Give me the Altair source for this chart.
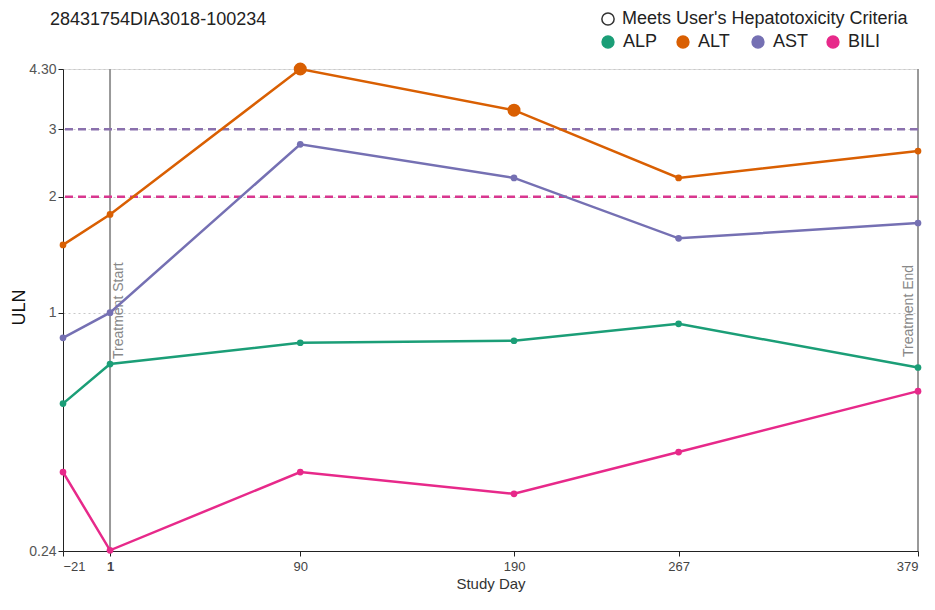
import altair as alt
import pandas as pd

days = [-21, 1, 90, 190, 267, 379]
tests = ["ALP", "ALT", "AST", "BILI"]
colors = ["#1b9e77", "#d95f02", "#7570b3", "#e7298a"]
alp = [0.58, 0.735, 0.835, 0.845, 0.935, 0.72]
alt_v = [1.50, 1.80, 4.30, 3.36, 2.24, 2.63]
ast = [0.86, 1.00, 2.74, 2.24, 1.56, 1.71]
bili = [0.385, 0.241, 0.385, 0.338, 0.434, 0.625]
crit_test = ["ALT", "ALT"]
crit_day = [90, 190]
crit_val = [4.30, 3.36]
ref_vals = [3, 2]
ref_colors = ["#8a70ad", "#d8378f"]
marker_days = [1, 379]
marker_labels = ["Treatment Start", "Treatment End"]
y_ticks = [0.24, 1, 2, 3, 4.3]
x_ticks = [-21, 1, 90, 190, 267, 379]
chart_title = "28431754DIA3018-100234"

rows = []
for t, vals in zip(tests, [alp, alt_v, ast, bili]):
    for d, v in zip(days, vals):
        rows.append({"test": t, "day": d, "uln": v})
df = pd.DataFrame(rows)
crit = pd.DataFrame({"test": crit_test, "day": crit_day, "uln": crit_val,
                     "crit": ["Meets User's Hepatotoxicity Criteria"] * 2})
refs = pd.DataFrame({"v": ref_vals, "c": ref_colors})
marks = pd.DataFrame({"day": marker_days, "label": marker_labels})
start_df = marks.iloc[[0]]
end_df = marks.iloc[[1]]
tdf = pd.DataFrame({"t": [chart_title]})

xs = alt.Scale(domain=[-21, 379], nice=False, zero=False)
ys = alt.Scale(type="log", domain=[0.24, 4.3], nice=False)
cs = alt.Scale(domain=tests, range=colors)

X = alt.X("day:Q", scale=xs, title="Study Day",
          axis=alt.Axis(values=x_ticks, grid=False, labelFontSize=13, titleFontSize=15,
                        labelColor="#444", titleColor="#333", domainColor="#222", tickColor="#222",
                        labelFontWeight=alt.ExprRef("datum.value == 1 ? 'bold' : 'normal'"),
                        titleFontWeight="normal", titlePadding=3, labelPadding=4))
Y = alt.Y("uln:Q", scale=ys, title="ULN",
          axis=alt.Axis(values=y_ticks, grid=True, gridDash=[2, 3], gridColor="#c8c8c8",
                        labelFontSize=14, titleFontSize=18, labelColor="#555", titleColor="#111",
                        domainColor="#222", tickColor="#222",
                        labelExpr="datum.value < 0.5 || datum.value > 4 ? format(datum.value, '.2f') : format(datum.value, 'd')",
                        titleX=-35, titleY=238, titleFontWeight="normal"))

vrules = alt.Chart(marks).mark_rule(color="#999", strokeWidth=2).encode(x=alt.X("day:Q", scale=xs))
stext = alt.Chart(start_df).mark_text(angle=270, align="left", baseline="top", dy=2,
                                      fontSize=14, color="#888").encode(
    x=alt.X("day:Q", scale=xs), y=alt.value(290), text="label:N")
etext = alt.Chart(end_df).mark_text(angle=270, align="left", baseline="bottom", dy=-2,
                                    fontSize=14, color="#888").encode(
    x=alt.X("day:Q", scale=xs), y=alt.value(288), text="label:N")
hrules = alt.Chart(refs).mark_rule(strokeDash=[8, 5], strokeWidth=2.5).encode(
    y=alt.Y("v:Q", scale=ys), color=alt.Color("c:N", scale=None))
ttext = alt.Chart(tdf).mark_text(align="left", baseline="alphabetic", fontSize=18,
                                 color="#222").encode(
    x=alt.value(-13), y=alt.value(-44), text="t:N")

lines = alt.Chart(df).mark_line(strokeWidth=2.5).encode(
    x=X, y=Y, detail="test:N",
    stroke=alt.Stroke("test:N", scale=cs, legend=None))
points = alt.Chart(df).mark_point(filled=True, size=45, opacity=1).encode(
    x=alt.X("day:Q", scale=xs), y=alt.Y("uln:Q", scale=ys),
    color=alt.Color("test:N", scale=cs, legend=alt.Legend(
        title=None, orient="none", direction="horizontal", legendX=536, legendY=-36,
        symbolType="circle", symbolSize=140, labelFontSize=18, labelOffset=6,
        gridAlign="all", columnPadding=15, labelColor="#222", padding=0)))
bigpts = alt.Chart(crit).mark_point(filled=True, size=170, opacity=1).encode(
    x=alt.X("day:Q", scale=xs), y=alt.Y("uln:Q", scale=ys),
    color=alt.Color("test:N", scale=cs),
    shape=alt.Shape("crit:N", scale=alt.Scale(range=["circle"]), legend=alt.Legend(
        title=None, orient="none", legendX=536, legendY=-59, symbolSize=150,
        symbolFillColor="white", symbolStrokeColor="#333", symbolStrokeWidth=1.5,
        labelFontSize=18, labelOffset=5, labelColor="#222", labelLimit=400, padding=0)))

chart = alt.layer(vrules, stext, etext, hrules, ttext, lines, points, bigpts).properties(
    width=855, height=482,
    autosize=alt.AutoSizeParams(type="none"),
    padding={"left": 55, "top": 61, "right": 9, "bottom": 45},
).configure_view(stroke=None).configure(font="Liberation Sans")

chart.save("out.html", embed_options={"renderer": "svg", "actions": False})
